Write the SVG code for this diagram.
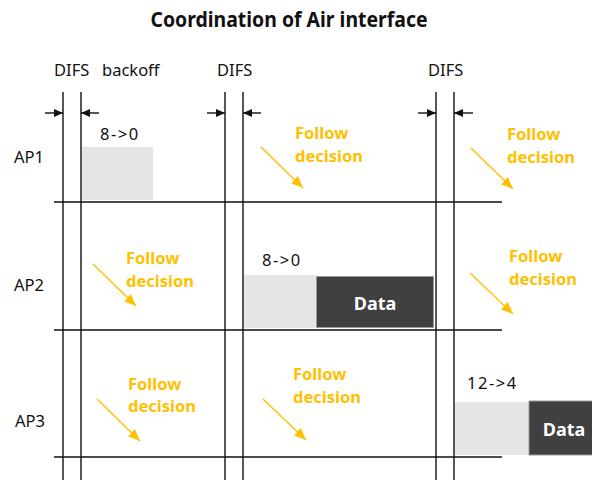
<svg xmlns="http://www.w3.org/2000/svg" width="592" height="482" viewBox="0 0 592 482">
<style>
.t{font-family:"Noto Sans","DejaVu Sans",sans-serif;font-size:16.5px;fill:#111}
.n{letter-spacing:1.5px}
.f{font-family:"Noto Sans","DejaVu Sans",sans-serif;font-size:16.5px;font-weight:bold;fill:#FFC000}
.d{font-family:"Noto Sans","DejaVu Sans",sans-serif;font-size:18px;font-weight:bold;fill:#fff}
.g{stroke:#111;stroke-width:1.4;fill:none}
.ba{stroke:#111;stroke-width:1.4;fill:none;marker-end:url(#bh)}
.oa{stroke:#FFC000;stroke-width:1.4;fill:none;marker-end:url(#oh)}
.bk{fill:#e6e6e6}
.dt{fill:#404040;stroke:#9a9a9a;stroke-width:1}
</style>
<defs>
<marker id="bh" markerWidth="9" markerHeight="8" refX="9" refY="4" orient="auto" markerUnits="userSpaceOnUse"><path d="M0,0L9,4L0,8z" fill="#111"/></marker>
<marker id="oh" markerWidth="12" markerHeight="10" refX="12" refY="5" orient="auto" markerUnits="userSpaceOnUse"><path d="M0,0L12,5L0,10z" fill="#FFC000"/></marker>
</defs>
<rect width="592" height="482" fill="#fff"/>
<text x="289" y="27" text-anchor="middle" font-family="'Noto Sans','DejaVu Sans',sans-serif" font-size="21" font-weight="bold" fill="#111" textLength="277" lengthAdjust="spacingAndGlyphs">Coordination of Air interface</text>
<g id="header">
<text class="t" x="54" y="76">DIFS</text>
<text class="t" x="102" y="76">backoff</text>
<text class="t" x="217" y="76">DIFS</text>
<text class="t" x="428" y="76">DIFS</text>
</g>
<g id="grid">
<line class="g" x1="63" y1="92" x2="63" y2="480"/>
<line class="g" x1="81" y1="92" x2="81" y2="480"/>
<line class="g" x1="225" y1="92" x2="225" y2="480"/>
<line class="g" x1="243" y1="92" x2="243" y2="480"/>
<line class="g" x1="436" y1="92" x2="436" y2="480"/>
<line class="g" x1="454" y1="92" x2="454" y2="480"/>
<line class="g" x1="54" y1="202" x2="502" y2="202"/>
<line class="g" x1="54" y1="330" x2="502" y2="330"/>
<line class="g" x1="54" y1="457" x2="502" y2="457"/>
</g>
<g id="ap1">
<text class="t" x="14" y="163">AP1</text>
<rect class="bk" x="82" y="147" width="71" height="53"/>
<text class="t n" x="100" y="140">8-&gt;0</text>
<text class="f" x="295" y="139">Follow</text>
<text class="f" x="295" y="162">decision</text>
<text class="f" x="507" y="140">Follow</text>
<text class="f" x="507" y="163">decision</text>
</g>
<g id="ap2">
<text class="t" x="14" y="291">AP2</text>
<rect class="bk" x="244" y="275" width="72" height="53"/>
<rect class="dt" x="316.5" y="276.5" width="117" height="51"/>
<text class="d" x="375" y="310" text-anchor="middle">Data</text>
<text class="t n" x="262" y="266">8-&gt;0</text>
<text class="f" x="126" y="264">Follow</text>
<text class="f" x="126" y="287">decision</text>
<text class="f" x="509" y="262">Follow</text>
<text class="f" x="509" y="285">decision</text>
</g>
<g id="ap3">
<text class="t" x="15" y="427">AP3</text>
<rect class="bk" x="455" y="402" width="74" height="53"/>
<rect class="dt" x="529" y="401" width="64" height="54"/>
<text class="d" x="564" y="436" text-anchor="middle">Data</text>
<text class="t n" x="467" y="389">12-&gt;4</text>
<text class="f" x="128" y="390">Follow</text>
<text class="f" x="128" y="412">decision</text>
<text class="f" x="293" y="380">Follow</text>
<text class="f" x="293" y="403">decision</text>
</g>
<g id="connectors">
<line class="ba" x1="45" y1="113" x2="63" y2="113"/>
<line class="ba" x1="99" y1="113" x2="81" y2="113"/>
<line class="ba" x1="207" y1="113" x2="225" y2="113"/>
<line class="ba" x1="261" y1="113" x2="243" y2="113"/>
<line class="ba" x1="418" y1="113" x2="436" y2="113"/>
<line class="ba" x1="473" y1="113" x2="454" y2="113"/>
<line class="oa" x1="261" y1="147" x2="303" y2="188"/>
<line class="oa" x1="471" y1="148" x2="513" y2="189"/>
<line class="oa" x1="93" y1="264" x2="136" y2="306"/>
<line class="oa" x1="470" y1="273" x2="513" y2="314"/>
<line class="oa" x1="97" y1="399" x2="140" y2="441"/>
<line class="oa" x1="263" y1="399" x2="306" y2="440"/>
</g>
</svg>
